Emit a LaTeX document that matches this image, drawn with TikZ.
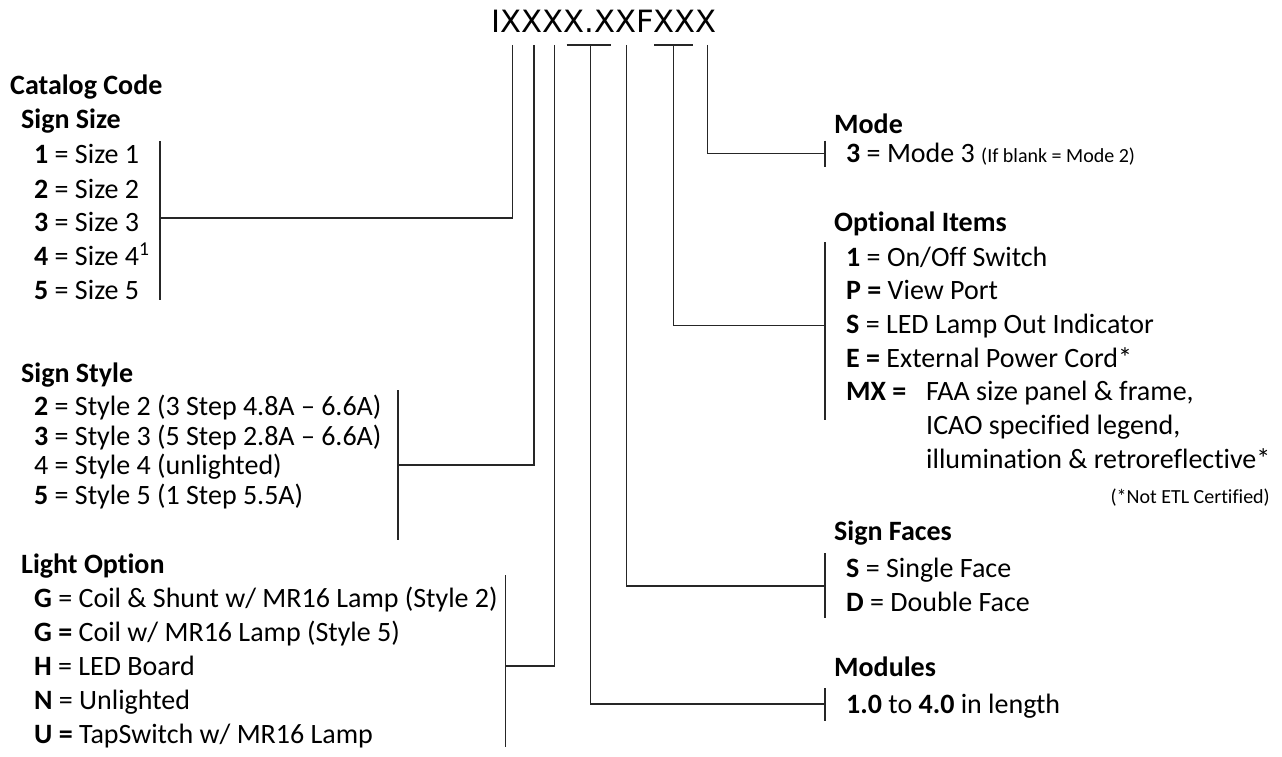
\documentclass[tikz,border=0pt]{standalone}
\usepackage{fontspec}
\setmainfont{Carlito}[Ligatures=CommonOff]
\newfontfamily\codefont{DejaVu Sans}
\usetikzlibrary{calc}
\tikzset{
	wire/.style={line width=1.5pt, draw=black!85},
	head/.style={anchor=base west, inner sep=0pt, font=\fontsize{28}{34}\selectfont\bfseries},
	entry/.style={anchor=base west, inner sep=0pt, font=\fontsize{28}{34}\selectfont},
	note/.style={inner sep=0pt, font=\fontsize{20}{24}\selectfont},
}

\begin{document}
\begin{tikzpicture}[x=1pt, y=-1pt]
			%%%%% START %%%%%
			\useasboundingbox (0,0) rectangle (1282,757);
			
			\node[anchor=base west, inner sep=0pt, font=\codefont\fontsize{30.7}{36}\selectfont] (code) at (491,33) {IXXXX.XXFXXX};
			
			% left column
			\node[head] (catalog) at (10,95) {Catalog Code};
			\node[head] (sizeHead) at (21,129) {Sign Size};
			\node[entry] (size1) at (34,164) {\textbf{1} = Size 1};
			\node[entry] (size2) at (34,198) {\textbf{2} = Size 2};
			\node[entry] (size3) at (34,231) {\textbf{3} = Size 3};
			\node[entry] (size4) at (34,265) {\textbf{4} = Size 4\textsuperscript{1}};
			\node[entry] (size5) at (34,299) {\textbf{5} = Size 5};
			
			\node[head] (styleHead) at (21,382) {Sign Style};
			\node[entry] (style2) at (34,415) {\textbf{2} = Style 2 (3 Step 4.8A -- 6.6A)};
			\node[entry] (style3) at (34,445) {\textbf{3} = Style 3 (5 Step 2.8A -- 6.6A)};
			\node[entry] (style4) at (34,474) {4 = Style 4 (unlighted)};
			\node[entry] (style5) at (34,504) {\textbf{5} = Style 5 (1 Step 5.5A)};
			
			\node[head] (lightHead) at (21,573) {Light Option};
			\node[entry] (lightG) at (34,607) {\textbf{G} = Coil \& Shunt w/ MR16 Lamp (Style 2)};
			\node[entry] (lightGG) at (34,641) {\textbf{G =} Coil w/ MR16 Lamp (Style 5)};
			\node[entry] (lightH) at (34,675) {\textbf{H} = LED Board};
			\node[entry] (lightN) at (34,709) {\textbf{N} = Unlighted};
			\node[entry] (lightU) at (34,743) {\textbf{U =} TapSwitch w/ MR16 Lamp};
			
			% right column
			\node[head] (modeHead) at (834,134) {Mode};
			\node[entry] (mode3) at (846,162) {\textbf{3} = Mode 3 {\fontsize{20}{24}\selectfont(If blank = Mode 2)}};
			
			\node[head] (itemsHead) at (834,231) {Optional Items};
			\node[entry] (item1) at (846,266) {\textbf{1} = On/Off Switch};
			\node[entry] (itemP) at (846,299) {\textbf{P =} View Port};
			\node[entry] (itemS) at (846,333) {\textbf{S} = LED Lamp Out Indicator};
			\node[entry] (itemE) at (846,367) {\textbf{E =} External Power Cord*};
			\node[entry] (itemMX) at (846,400) {\textbf{MX =}};
			\node[entry] (mxA) at (926,400) {FAA size panel \& frame,};
			\node[entry] (mxB) at (926,434) {ICAO specified legend,};
			\node[entry] (mxC) at (926,468) {illumination \& retroreflective*};
			\node[note, anchor=base east] (etl) at (1270,503) {(*Not ETL Certified)};
			
			\node[head] (facesHead) at (834,540) {Sign Faces};
			\node[entry] (faceS) at (846,577) {\textbf{S} = Single Face};
			\node[entry] (faceD) at (846,611) {\textbf{D} = Double Face};
			
			\node[head] (modHead) at (834,676) {Modules};
			\node[entry] (modLen) at (846,713) {\textbf{1.0} to \textbf{4.0} in length};
			
			% drops from the code
			\coordinate (sizeTop) at (512.7,45);
			\coordinate (styleTop) at (534,45);
			\coordinate (lightTop) at (554.3,45);
			\coordinate (modTop) at (590.7,45);
			\coordinate (facesTop) at (626.7,45);
			\coordinate (itemsTop) at (673.3,45);
			\coordinate (modeTop) at (707.3,45);
			
			\coordinate (sizeJoin) at (160,218);
			\coordinate (styleJoin) at (398,465);
			\coordinate (lightJoin) at (505.7,666);
			\coordinate (modJoin) at (825,704);
			\coordinate (facesJoin) at (825,586);
			\coordinate (itemsJoin) at (825,325.7);
			\coordinate (modeJoin) at (825,153.3);
			
			\draw[wire] (sizeTop) |- (sizeJoin);
			\draw[wire] (styleTop) |- (styleJoin);
			\draw[wire] (lightTop) |- (lightJoin);
			\draw[wire] (modTop) |- (modJoin);
			\draw[wire] (facesTop) |- (facesJoin);
			\draw[wire] (itemsTop) |- (itemsJoin);
			\draw[wire] (modeTop) |- (modeJoin);
			
			\draw[wire] (566.7,45) -- (611,45);
			\draw[wire] (654,45) -- (692.7,45);
			
			% brackets
			\draw[wire] (160,141) -- (160,300);
			\draw[wire] (398,390) -- (398,540);
			\draw[wire] (505.7,575) -- (505.7,747);
			\draw[wire] (825,140.7) -- (825,166.7);
			\draw[wire] (825,242) -- (825,420);
			\draw[wire] (825,553) -- (825,618);
			\draw[wire] (825,688) -- (825,721);
			
			%%%%% END %%%%%
\end{tikzpicture}
\end{document}
